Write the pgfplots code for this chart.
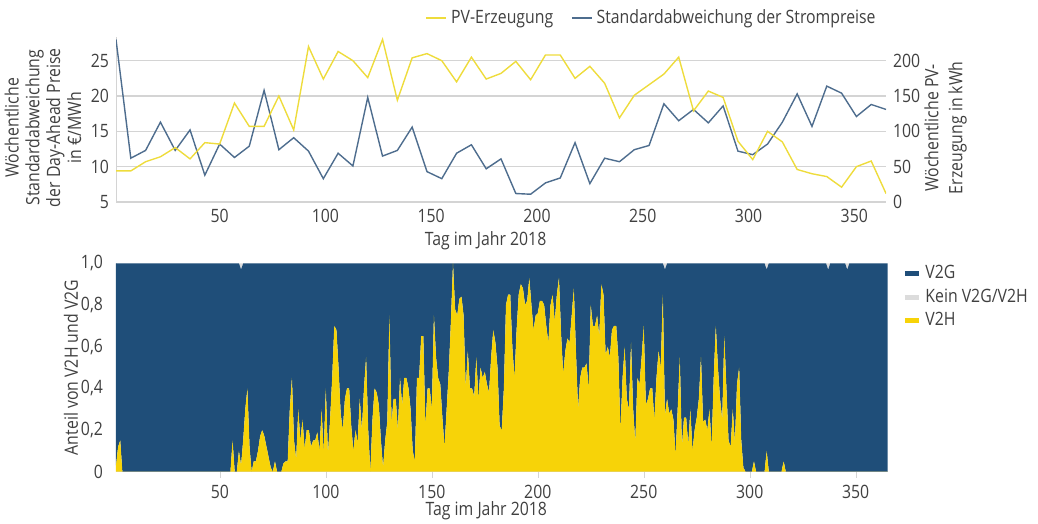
\documentclass[border=0pt]{standalone}
\usepackage{fontspec}
\setmainfont{Open Sans}[FakeStretch=0.86]
\usepackage{pgfplots}
\usepackage{pgfplotstable}
\pgfplotsset{compat=1.18}

\definecolor{pvYellow}{HTML}{EEDC3C}
\definecolor{stdBlue}{HTML}{4E6D8E}
\definecolor{vtgBlue}{HTML}{1F4E79}
\definecolor{vthYellow}{HTML}{F7D308}
\definecolor{keinGrey}{HTML}{DCDCDC}
\definecolor{inkMuted}{HTML}{404040}
\definecolor{gridLine}{HTML}{D4D4D4}
\newcommand{\chartfont}{\fontsize{9.2}{10.2}\selectfont}

\pgfplotsset{
  panel/.style={
    scale only axis, anchor=north west,
    axis line style={gridLine, -},
    tick style={draw=none},
    major grid style={gridLine, line width=0.6pt},
    tick label style={font=\chartfont, text=inkMuted},
    /pgf/number format/assume math mode=true,
    legend style={draw=none, fill=none, font=\chartfont, text=inkMuted},
    legend cell align=left,
  },
  xlab/.style={every axis x label/.style={at={(axis description cs:0.48,0)},
    anchor=center, yshift=-19.5pt, font=\chartfont, text=inkMuted}},
}

% weekly values: std of day-ahead prices (EUR/MWh), PV generation (kWh)
\pgfplotstableread{
d s pv
1 28.0 44
8 11.2 44
15 12.3 57
22 16.3 64
29 12.3 77
36 15.2 61
43 8.8 84
50 13.2 82
57 11.3 140
64 12.9 107
71 20.8 107
78 12.4 150
85 14.1 102
92 12.2 220
99 8.3 174
106 11.9 213
113 10.1 200
120 19.8 176
127 11.5 230
134 12.3 144
141 15.6 204
148 9.3 210
155 8.3 200
162 11.9 170
169 13.1 205
176 9.7 174
183 11.1 182
190 6.2 199
197 6.1 173
204 7.7 208
211 8.4 208
218 13.4 175
225 7.6 192
232 11.2 168
239 10.7 119
246 12.4 151
253 13.0 166
260 18.9 181
267 16.5 205
274 18.1 129
281 16.2 157
288 18.6 148
295 12.2 86
302 11.7 60
309 13.2 100
316 16.3 85
323 20.3 46
330 15.7 40
337 21.4 36
344 20.4 21
351 17.1 50
358 18.8 58
365 18.1 12
}\weekly

% daily shares: h = V2H, g = V2G, k = kein V2G/V2H
\pgfplotstableread[row sep=\\]{
d h g k\\
1 0.03 0.97 0\\ 2 0.12 0.88 0\\ 3 0.15 0.85 0\\ 4 0 1 0\\ 5 0 1 0\\ 6 0 1 0\\ 7 0 1 0\\ 8 0 1 0\\ 9 0 1 0\\ 10 0 1 0\\
11 0 1 0\\ 12 0 1 0\\ 13 0 1 0\\ 14 0 1 0\\ 15 0 1 0\\ 16 0 1 0\\ 17 0 1 0\\ 18 0 1 0\\ 19 0 1 0\\ 20 0 1 0\\
21 0 1 0\\ 22 0 1 0\\ 23 0 1 0\\ 24 0 1 0\\ 25 0 1 0\\ 26 0 1 0\\ 27 0 1 0\\ 28 0 1 0\\ 29 0 1 0\\ 30 0 1 0\\
31 0 1 0\\ 32 0 1 0\\ 33 0 1 0\\ 34 0 1 0\\ 35 0 1 0\\ 36 0 1 0\\ 37 0 1 0\\ 38 0 1 0\\ 39 0 1 0\\ 40 0 1 0\\
41 0 1 0\\ 42 0 1 0\\ 43 0 1 0\\ 44 0 1 0\\ 45 0 1 0\\ 46 0 1 0\\ 47 0 1 0\\ 48 0 1 0\\ 49 0 1 0\\ 50 0 1 0\\
51 0 1 0\\ 52 0 1 0\\ 53 0 1 0\\ 54 0 1 0\\ 55 0 1 0\\ 56 0.15 0.85 0\\ 57 0 1 0\\ 58 0 1 0\\ 59 0.10 0.90 0\\ 60 0.03 0.94 0.03\\
61 0.15 0.85 0\\ 62 0.30 0.70 0\\ 63 0.40 0.60 0\\ 64 0.12 0.88 0\\ 65 0 1 0\\ 66 0.05 0.95 0\\ 67 0.05 0.95 0\\ 68 0.10 0.90 0\\ 69 0.17 0.83 0\\ 70 0.20 0.80 0\\
71 0.17 0.83 0\\ 72 0.12 0.88 0\\ 73 0.07 0.93 0\\ 74 0.02 0.98 0\\ 75 0 1 0\\ 76 0.05 0.95 0\\ 77 0 1 0\\ 78 0 1 0\\ 79 0 1 0\\ 80 0.04 0.96 0\\
81 0.05 0.95 0\\ 82 0.05 0.95 0\\ 83 0.30 0.70 0\\ 84 0.45 0.55 0\\ 85 0.15 0.85 0\\ 86 0.06 0.94 0\\ 87 0.30 0.70 0\\ 88 0.15 0.85 0\\ 89 0.25 0.75 0\\ 90 0.11 0.89 0\\
91 0.20 0.80 0\\ 92 0.20 0.80 0\\ 93 0.12 0.88 0\\ 94 0.15 0.85 0\\ 95 0.15 0.85 0\\ 96 0.19 0.81 0\\ 97 0.10 0.90 0\\ 98 0.30 0.70 0\\ 99 0.09 0.91 0\\ 100 0.40 0.60 0\\
101 0.08 0.92 0\\ 102 0.25 0.75 0\\ 103 0.45 0.55 0\\ 104 0.70 0.30 0\\ 105 0.68 0.32 0\\ 106 0.50 0.50 0\\ 107 0.28 0.72 0\\ 108 0.20 0.80 0\\ 109 0.35 0.65 0\\ 110 0.40 0.60 0\\
111 0.40 0.60 0\\ 112 0.22 0.78 0\\ 113 0.10 0.90 0\\ 114 0.20 0.80 0\\ 115 0.14 0.86 0\\ 116 0.35 0.65 0\\ 117 0.20 0.80 0\\ 118 0.40 0.60 0\\ 119 0.55 0.45 0\\ 120 0.20 0.80 0\\
121 0 1 0\\ 122 0.25 0.75 0\\ 123 0.40 0.60 0\\ 124 0.38 0.62 0\\ 125 0.32 0.68 0\\ 126 0.15 0.85 0\\ 127 0.02 0.98 0\\ 128 0.15 0.85 0\\ 129 0.24 0.76 0\\ 130 0.75 0.25 0\\
131 0.24 0.76 0\\ 132 0.35 0.65 0\\ 133 0.35 0.65 0\\ 134 0.20 0.80 0\\ 135 0.45 0.55 0\\ 136 0.32 0.68 0\\ 137 0.45 0.55 0\\ 138 0.45 0.55 0\\ 139 0.40 0.60 0\\ 140 0.30 0.70 0\\
141 0.10 0.90 0\\ 142 0.05 0.95 0\\ 143 0.45 0.55 0\\ 144 0.45 0.55 0\\ 145 0.65 0.35 0\\ 146 0.65 0.35 0\\ 147 0.22 0.78 0\\ 148 0.40 0.60 0\\ 149 0.40 0.60 0\\ 150 0.30 0.70 0\\
151 0.75 0.25 0\\ 152 0.55 0.45 0\\ 153 0.45 0.55 0\\ 154 0.42 0.58 0\\ 155 0.26 0.74 0\\ 156 0.12 0.88 0\\ 157 0.30 0.70 0\\ 158 0.48 0.52 0\\ 159 0.72 0.28 0\\ 160 1 0 0\\
161 0.78 0.22 0\\ 162 0.75 0.25 0\\ 163 0.83 0.17 0\\ 164 0.84 0.16 0\\ 165 0.75 0.25 0\\ 166 0.40 0.60 0\\ 167 0.58 0.42 0\\ 168 0.40 0.60 0\\ 169 0.40 0.60 0\\ 170 0.36 0.64 0\\
171 0.55 0.45 0\\ 172 0.35 0.65 0\\ 173 0.50 0.50 0\\ 174 0.45 0.55 0\\ 175 0.48 0.52 0\\ 176 0.42 0.58 0\\ 177 0.38 0.62 0\\ 178 0.55 0.45 0\\ 179 0.68 0.32 0\\ 180 0.62 0.38 0\\
181 0.50 0.50 0\\ 182 0.22 0.78 0\\ 183 0.20 0.80 0\\ 184 0.40 0.60 0\\ 185 0.80 0.20 0\\ 186 0.85 0.15 0\\ 187 0.85 0.15 0\\ 188 0.60 0.40 0\\ 189 0.45 0.55 0\\ 190 0.68 0.32 0\\
191 0.85 0.15 0\\ 192 0.90 0.10 0\\ 193 0.88 0.12 0\\ 194 0.80 0.20 0\\ 195 0.82 0.18 0\\ 196 0.93 0.07 0\\ 197 0.80 0.20 0\\ 198 0.68 0.32 0\\ 199 0.75 0.25 0\\ 200 0.76 0.24 0\\
201 0.82 0.18 0\\ 202 0.82 0.18 0\\ 203 0.80 0.20 0\\ 204 0.70 0.30 0\\ 205 0.62 0.38 0\\ 206 0.80 0.20 0\\ 207 0.85 0.15 0\\ 208 0.72 0.28 0\\ 209 0.85 0.15 0\\ 210 0.93 0.07 0\\
211 0.66 0.34 0\\ 212 0.47 0.53 0\\ 213 0.58 0.42 0\\ 214 0.64 0.36 0\\ 215 0.62 0.38 0\\ 216 0.75 0.25 0\\ 217 0.88 0.12 0\\ 218 0.58 0.42 0\\ 219 0.30 0.70 0\\ 220 0.45 0.55 0\\
221 0.50 0.50 0\\ 222 0.50 0.50 0\\ 223 0.52 0.48 0\\ 224 0.40 0.60 0\\ 225 0.80 0.20 0\\ 226 0.70 0.30 0\\ 227 0.70 0.30 0\\ 228 0.75 0.25 0\\ 229 0.65 0.35 0\\ 230 0.90 0.10 0\\
231 0.85 0.15 0\\ 232 0.56 0.44 0\\ 233 0.60 0.40 0\\ 234 0.55 0.45 0\\ 235 0.68 0.32 0\\ 236 0.70 0.30 0\\ 237 0.70 0.30 0\\ 238 0.55 0.45 0\\ 239 0.20 0.80 0\\ 240 0.45 0.55 0\\
241 0.60 0.40 0\\ 242 0.35 0.65 0\\ 243 0.30 0.70 0\\ 244 0.62 0.38 0\\ 245 0.30 0.70 0\\ 246 0.14 0.86 0\\ 247 0.45 0.55 0\\ 248 0.42 0.58 0\\ 249 0.55 0.45 0\\ 250 0.70 0.30 0\\
251 0.32 0.68 0\\ 252 0.35 0.65 0\\ 253 0.40 0.60 0\\ 254 0.40 0.60 0\\ 255 0.25 0.75 0\\ 256 0.45 0.55 0\\ 257 0.58 0.42 0\\ 258 0.50 0.50 0\\ 259 0.85 0.15 0\\ 260 0.27 0.70 0.03\\
261 0.35 0.65 0\\ 262 0.28 0.72 0\\ 263 0.30 0.70 0\\ 264 0.25 0.75 0\\ 265 0.08 0.92 0\\ 266 0.30 0.70 0\\ 267 0.55 0.45 0\\ 268 0.12 0.88 0\\ 269 0.26 0.74 0\\ 270 0.26 0.74 0\\
271 0.13 0.87 0\\ 272 0.30 0.70 0\\ 273 0.10 0.90 0\\ 274 0.20 0.80 0\\ 275 0.26 0.74 0\\ 276 0.35 0.65 0\\ 277 0.55 0.45 0\\ 278 0.24 0.76 0\\ 279 0.25 0.75 0\\ 280 0.20 0.80 0\\
281 0.30 0.70 0\\ 282 0.12 0.88 0\\ 283 0.45 0.55 0\\ 284 0.70 0.30 0\\ 285 0.50 0.50 0\\ 286 0.35 0.65 0\\ 287 0.25 0.75 0\\ 288 0.65 0.35 0\\ 289 0.40 0.60 0\\ 290 0.15 0.85 0\\
291 0.12 0.88 0\\ 292 0.30 0.70 0\\ 293 0.14 0.86 0\\ 294 0.42 0.58 0\\ 295 0.50 0.50 0\\ 296 0.15 0.85 0\\ 297 0.02 0.98 0\\ 298 0 1 0\\ 299 0 1 0\\ 300 0 1 0\\
301 0 1 0\\ 302 0.05 0.95 0\\ 303 0 1 0\\ 304 0 1 0\\ 305 0 1 0\\ 306 0 1 0\\ 307 0 1 0\\ 308 0.10 0.87 0.03\\ 309 0 1 0\\ 310 0 1 0\\
311 0 1 0\\ 312 0 1 0\\ 313 0 1 0\\ 314 0 1 0\\ 315 0 1 0\\ 316 0.05 0.95 0\\ 317 0 1 0\\ 318 0 1 0\\ 319 0 1 0\\ 320 0 1 0\\
321 0 1 0\\ 322 0 1 0\\ 323 0 1 0\\ 324 0 1 0\\ 325 0 1 0\\ 326 0 1 0\\ 327 0 1 0\\ 328 0 1 0\\ 329 0 1 0\\ 330 0 1 0\\
331 0 1 0\\ 332 0 1 0\\ 333 0 1 0\\ 334 0 1 0\\ 335 0 1 0\\ 336 0 1 0\\ 337 0 0.97 0.03\\ 338 0 1 0\\ 339 0 1 0\\ 340 0 1 0\\
341 0 1 0\\ 342 0 1 0\\ 343 0 1 0\\ 344 0 1 0\\ 345 0 1 0\\ 346 0 0.97 0.03\\ 347 0 1 0\\ 348 0 1 0\\ 349 0 1 0\\ 350 0 1 0\\
351 0 1 0\\ 352 0 1 0\\ 353 0 1 0\\ 354 0 1 0\\ 355 0 1 0\\ 356 0 1 0\\ 357 0 1 0\\ 358 0 1 0\\ 359 0 1 0\\ 360 0 1 0\\
361 0 1 0\\ 362 0 1 0\\ 363 0 1 0\\ 364 0 1 0\\ 365 0 1 0\\
}\daily

\begin{document}
\begin{tikzpicture}
\path[use as bounding box] (0pt,0pt) rectangle (519pt,-262pt);

% top panel, left axis: price deviation
\begin{axis}[panel, xlab, at={(58pt,-18.5pt)}, width=385pt, height=82.5pt,
  xmin=1, xmax=365, ymin=5, ymax=28.35,
  xtick={50,100,...,350}, ytick={5,10,...,25},
  ymajorgrids, axis x line*=bottom, axis y line*=left,
  xlabel={Tag im Jahr 2018},
  ylabel={Wöchentliche\\Standardabweichung\\der Day-Ahead Preise\\in €/MWh},
  every axis y label/.style={at={(axis description cs:-0.036,0.45)},
    rotate=90, anchor=south, align=center,
    font=\fontsize{9.2}{10.4}\selectfont, text=inkMuted}]
\addplot[stdBlue, line width=0.7pt] table[x=d, y=s] {\weekly};
\end{axis}

% top panel, right axis: PV generation
\begin{axis}[panel, at={(58pt,-18.5pt)}, width=385pt, height=82.5pt,
  xmin=1, xmax=365, ymin=0, ymax=233.5,
  axis x line=none, axis y line*=right, y axis line style={draw=none},
  ytick={0,50,...,200},
  ylabel={Wöchentliche PV-\\Erzeugung in kWh},
  every axis y label/.style={at={(axis description cs:1.0405,0.45)},
    rotate=90, anchor=north, align=center,
    font=\fontsize{9.2}{12}\selectfont, text=inkMuted},
  legend style={at={(axis description cs:0.394,1.115)}, anchor=west,
    legend columns=2, /tikz/every even column/.append style={column sep=7pt}},
  legend image code/.code={\draw[#1] (0pt,0pt) -- (10pt,0pt);}]
\addplot[pvYellow, line width=0.7pt] table[x=d, y=pv] {\weekly};
\addlegendentry{PV-Erzeugung}
\addlegendimage{stdBlue, line width=0.7pt}
\addlegendentry{Standardabweichung der Strompreise}
\end{axis}

% bottom panel: daily shares
\begin{axis}[panel, xlab, at={(58pt,-131.65pt)}, width=385.75pt, height=104.2pt,
  xmin=1, xmax=365, ymin=0, ymax=1, stack plots=y,
  xtick={50,100,...,350}, ytick={0,0.2,0.4,0.6,0.8,1},
  yticklabels={0,{0,2},{0,4},{0,6},{0,8},{1,0}},
  axis x line*=bottom, axis y line*=left,
  xtick style={draw=gridLine}, tick align=outside, major tick length=3pt,
  xlabel={Tag im Jahr 2018},
  ylabel={Anteil von V2H und V2G},
  every axis y label/.style={at={(axis description cs:-0.04,0.5)},
    rotate=90, anchor=south, font=\chartfont, text=inkMuted}]
\addplot[fill=vthYellow, draw=none] table[x=d, y=h] {\daily} \closedcycle;
\addplot[fill=vtgBlue, draw=none] table[x=d, y=g] {\daily} \closedcycle;
\addplot[fill=keinGrey, draw=none] table[x=d, y=k] {\daily} \closedcycle;
\end{axis}

% legend of the bottom panel
\begin{axis}[panel, at={(58pt,-131.65pt)}, width=385.75pt, height=104.2pt,
  hide axis, xmin=0, xmax=1, ymin=0, ymax=1,
  legend style={at={(axis description cs:1.011,1.03)}, anchor=north west,
    row sep=-0.5pt},
  legend image code/.code={\draw[#1, line width=2.5pt] (0pt,0pt) -- (7pt,0pt);}]
\addlegendimage{vtgBlue}
\addlegendentry{V2G}
\addlegendimage{keinGrey}
\addlegendentry{Kein V2G/V2H}
\addlegendimage{vthYellow}
\addlegendentry{V2H}
\end{axis}
\end{tikzpicture}
\end{document}
